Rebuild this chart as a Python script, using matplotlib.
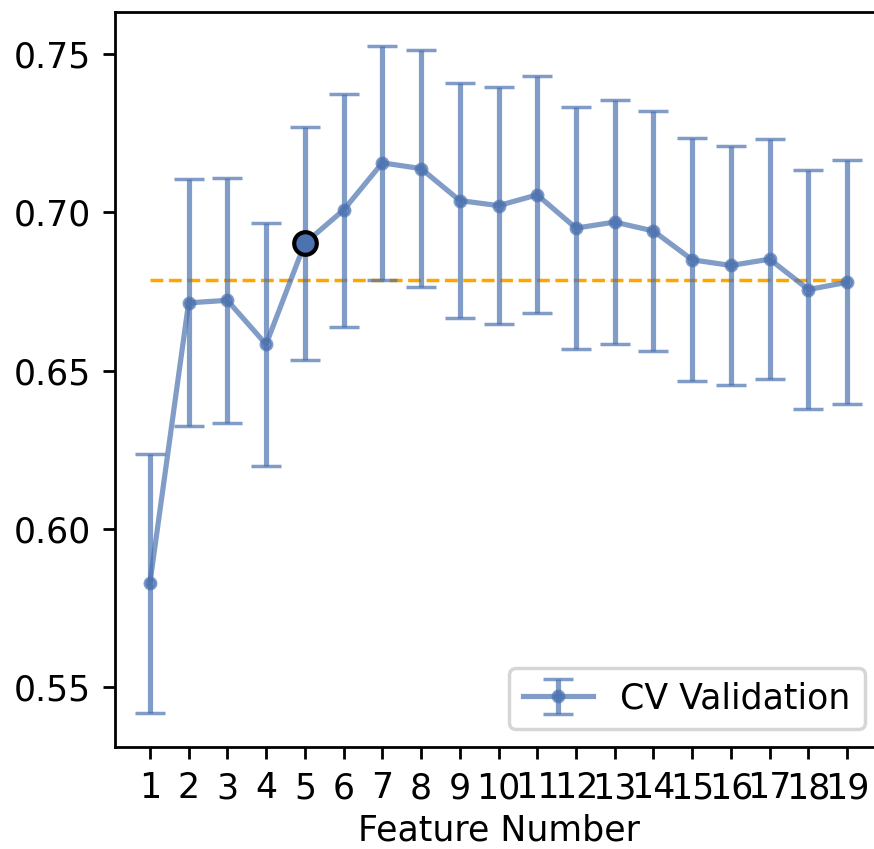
import matplotlib
matplotlib.use("Agg")
import matplotlib.pyplot as plt

# CV scores per number of selected features
FEATURE_NUMBERS = list(range(1, 20))
CV_MEAN = [0.5828, 0.6714, 0.6722, 0.6583, 0.6902, 0.7007, 0.7156, 0.7138, 0.7037, 0.7021,
           0.7055, 0.6950, 0.6969, 0.6941, 0.6850, 0.6832, 0.6852, 0.6756, 0.6779]
CV_STD = [0.0410, 0.0390, 0.0386, 0.0384, 0.0368, 0.0368, 0.0370, 0.0373, 0.0372, 0.0375,
          0.0374, 0.0381, 0.0384, 0.0380, 0.0383, 0.0376, 0.0378, 0.0377, 0.0385]
THRESHOLD = 0.6787
SELECTED_FEATURE = 5
SELECTED_SCORE = 0.6902

DPI = 250
fig = plt.figure(figsize=(874 / DPI, 849 / DPI), dpi=DPI)
ax = fig.add_axes([115 / 874, 102.3 / 849, 767 / 874, 734.4 / 849])

blue = "#4C72B0"
ax.errorbar(FEATURE_NUMBERS, CV_MEAN, yerr=CV_STD, color=blue, alpha=0.7,
            marker="o", markersize=3, capsize=4.3, linewidth=1.5,
            label="CV Validation", zorder=2)
ax.hlines(THRESHOLD, FEATURE_NUMBERS[0], FEATURE_NUMBERS[-1], colors="orange",
          linestyles="--", linewidth=1.0, zorder=1)
ax.plot(SELECTED_FEATURE, SELECTED_SCORE, "o", markersize=6.5, color=blue,
        markeredgecolor="black", markeredgewidth=1.2, zorder=3)

ax.set_xticks(FEATURE_NUMBERS)
ax.set_xlabel("Feature Number", labelpad=2.5)
ax.legend(loc="lower right")

fig.savefig("out.png", dpi=DPI)
